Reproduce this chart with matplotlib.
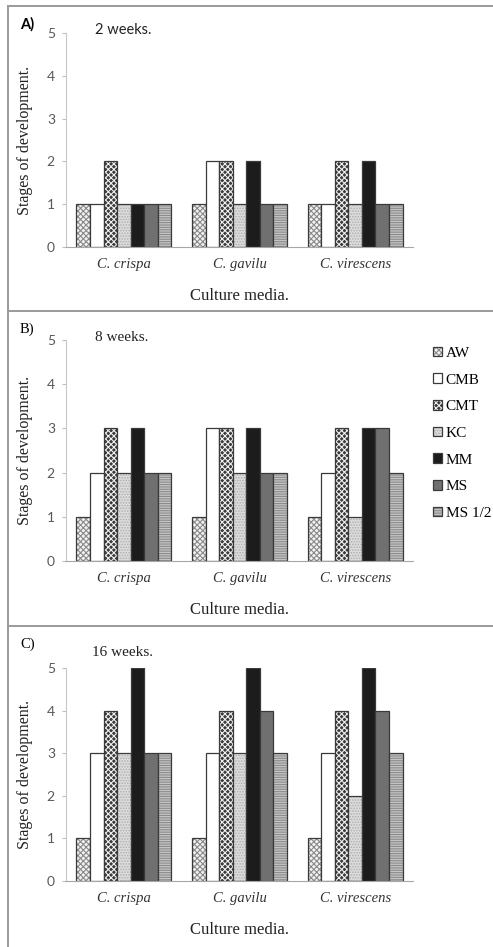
import numpy as np
import matplotlib
matplotlib.use("Agg")
import matplotlib.pyplot as plt
from matplotlib.lines import Line2D

species = ["C. crispa", "C. gavilu", "C. virescens"]
media = ["AW", "CMB", "CMT", "KC", "MM", "MS", "MS 1/2"]

# stage of development per medium (rows) and species (columns)
week2 = [[1, 1, 1], [1, 2, 1], [2, 2, 2], [1, 1, 1], [1, 2, 2], [1, 1, 1], [1, 1, 1]]
week8 = [[1, 1, 1], [2, 3, 2], [3, 3, 3], [2, 2, 1], [3, 3, 3], [2, 2, 3], [2, 2, 2]]
week16 = [[1, 1, 1], [3, 3, 3], [4, 4, 4], [3, 3, 2], [5, 5, 5], [3, 4, 4], [3, 3, 3]]

panels = ["A)", "B)", "C)"]
titles = ["2 weeks.", "8 weeks.", "16 weeks."]

faces = ["#f2f2f2", "white", "#3a3a3a", "#dcdcdc", "#1c1c1c", "#707070", "#c4c4c4"]
hatches = ["xxxxxx", None, "xxxxxx", "......", None, None, "-------"]
hcolors = ["#8a8a8a", "#404040", "#f0f0f0", "#b0b0b0", "#404040", "#404040", "#8c8c8c"]

SERIF = "Liberation Serif"
SANS = "Lato"

plt.rcParams["hatch.linewidth"] = 0.8

fig = plt.figure(figsize=(4.93, 9.47), dpi=100)
W, H = 493.0, 947.0

# axes boxes in pixels: left, top(y=5), bottom(y=0)
boxes = [(66, 33, 247), (66, 340, 561), (66, 668, 881)]
frames = [(6, 311), (311, 626), (626, 947)]

x = np.arange(len(species))
bw = 0.82 / len(media)

for k, (data, (l, t, b)) in enumerate(zip([week2, week8, week16], boxes)):
    ax = fig.add_axes([l / W, 1 - b / H, 347 / W, (b - t) / H])
    for i, m in enumerate(media):
        pos = x - 0.41 + bw * (i + 0.5)
        bars = ax.bar(pos, data[i], bw, color=faces[i], edgecolor="#3a3a3a",
                      linewidth=0.9, label=m, zorder=2)
        if hatches[i]:
            for r in bars:
                r.set_hatch(hatches[i])
                r._hatch_color = matplotlib.colors.to_rgba(hcolors[i])
    ax.set_xlim(-0.5, 2.5)
    ax.set_ylim(0, 5)
    ax.set_yticks(range(6))
    ax.set_xticks(x)
    ax.set_xticklabels(species, fontfamily=SERIF, fontstyle="italic", fontsize=10.5,
                       color="#333333")
    ax.tick_params(axis="x", length=0, pad=8)
    ax.tick_params(axis="y", length=3, color="#bfbfbf", labelcolor="#595959",
                   labelsize=10, pad=5)
    for lab in ax.get_yticklabels():
        lab.set_fontfamily(SANS)
    for s in ["top", "right"]:
        ax.spines[s].set_visible(False)
    ax.spines["left"].set_color("#c8c8c8")
    ax.spines["bottom"].set_color("#a6a6a6")
    ax.set_ylabel("Stages of development.", fontfamily=SERIF, fontsize=11.5,
                  color="#222222", labelpad=10)
    ax.set_xlabel("Culture media.", fontfamily=SERIF, fontsize=12, color="#222222",
                  labelpad=12)

    ft, fb = frames[k]
    fig.text(20 / W, 1 - (ft + 18) / H, panels[k], fontfamily=SANS if k == 0 else SERIF,
             fontsize=10.5, fontweight="bold" if k == 0 else "normal", va="center")
    fig.text((95 if k < 2 else 92) / W, 1 - (t - 3 if k < 2 else t - 16) / H, titles[k],
             fontfamily=SANS if k == 0 else SERIF, fontsize=10.5 if k == 0 else 11,
             va="center", color="#222222")

    if k == 1:
        leg = ax.legend(loc="upper left", bbox_to_anchor=(425 / W, 1 - 339 / H),
                        bbox_transform=fig.transFigure, frameon=False,
                        prop={"family": SERIF, "size": 11}, handlelength=0.6,
                        handleheight=0.6, handletextpad=0.25, labelspacing=0.88,
                        borderpad=0)

# gray panel frames
for ft, fb in frames:
    fig.add_artist(Line2D([8 / W, 1], [1 - ft / H, 1 - ft / H], color="#9a9a9a",
                          lw=1.4, transform=fig.transFigure))
fig.add_artist(Line2D([8 / W, 8 / W], [0, 1 - 6 / H], color="#9a9a9a", lw=1.4,
                      transform=fig.transFigure))

fig.savefig("out.png", dpi=100)
